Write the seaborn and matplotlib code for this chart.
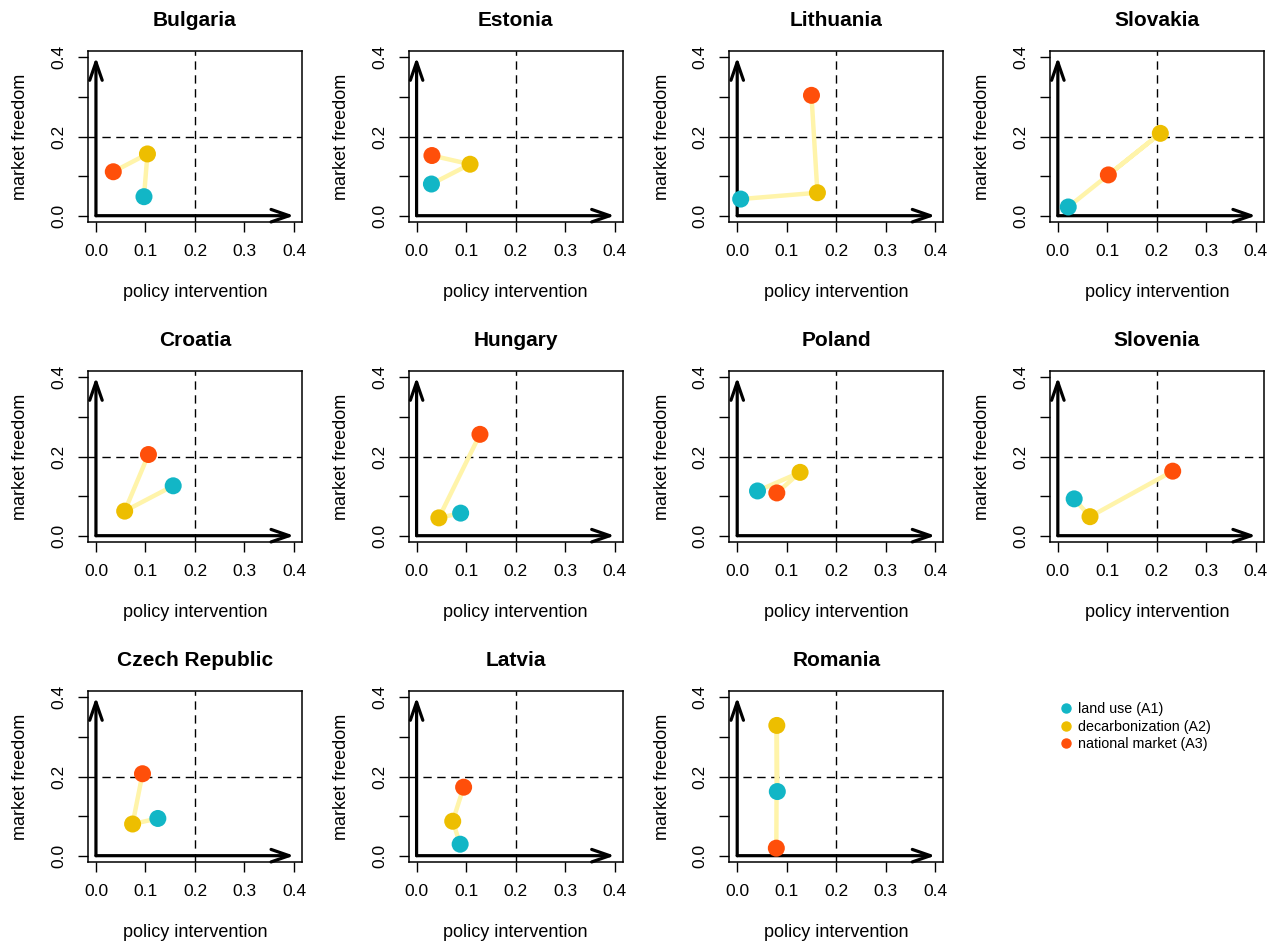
import numpy as np
import pandas as pd
import seaborn as sns
import matplotlib.pyplot as plt
from matplotlib.lines import Line2D

sns.set_style('white')
plt.rcParams['font.family'] = ['Liberation Sans', 'DejaVu Sans']
plt.rcParams['text.color'] = 'black'
plt.rcParams['axes.labelcolor'] = 'black'
plt.rcParams['xtick.color'] = 'black'
plt.rcParams['ytick.color'] = 'black'

countries = ['Bulgaria', 'Estonia', 'Lithuania', 'Slovakia',
             'Croatia', 'Hungary', 'Poland', 'Slovenia',
             'Czech Republic', 'Latvia', 'Romania']
scenarios = ['land use (A1)', 'decarbonization (A2)', 'national market (A3)']

# policy intervention (x) / market freedom (y) per scenario, one value per country
land_use_x = [0.097, 0.030, 0.007, 0.021, 0.156, 0.089, 0.041, 0.033, 0.125, 0.088, 0.081]
land_use_y = [0.048, 0.080, 0.042, 0.022, 0.126, 0.057, 0.113, 0.093, 0.094, 0.029, 0.162]
decarb_x = [0.104, 0.108, 0.162, 0.207, 0.058, 0.045, 0.127, 0.065, 0.074, 0.073, 0.080]
decarb_y = [0.156, 0.130, 0.058, 0.208, 0.062, 0.045, 0.160, 0.048, 0.080, 0.087, 0.329]
market_x = [0.035, 0.031, 0.150, 0.102, 0.106, 0.128, 0.080, 0.232, 0.094, 0.095, 0.079]
market_y = [0.111, 0.152, 0.304, 0.103, 0.205, 0.256, 0.108, 0.163, 0.207, 0.173, 0.019]

ticks = [0.0, 0.1, 0.2, 0.3, 0.4]
xtick_labels = ['0.0', '0.1', '0.2', '0.3', '0.4']
ytick_labels = ['0.0', '', '0.2', '', '0.4']
threshold = 0.2

colors = ['#12B6C6', '#EDBE00', '#FF4F0A']
palette = dict(zip(scenarios, colors))
link_color = '#FFF4AA'

rows = []
for i, c in enumerate(countries):
    for s, xs, ys in zip(scenarios, [land_use_x, decarb_x, market_x], [land_use_y, decarb_y, market_y]):
        rows.append({'country': c, 'scenario': s, 'x': xs[i], 'y': ys[i]})
df = pd.DataFrame(rows)

fig, axes = plt.subplots(3, 4, figsize=(12.74, 9.48), dpi=100)
fig.subplots_adjust(left=0.0691, right=0.992, top=0.9462, bottom=0.0907, wspace=0.499, hspace=0.871)

for ax, c in zip(axes.flat, countries):
    d = df[df['country'] == c]
    ax.axhline(threshold, color='black', lw=1.0, dashes=(6, 4), zorder=1)
    ax.axvline(threshold, color='black', lw=1.0, dashes=(6, 4), zorder=1)
    ax.annotate('', xy=(ticks[-1], ticks[0]), xytext=(ticks[0], ticks[0]),
                arrowprops=dict(arrowstyle='->,head_length=1.3,head_width=0.45', lw=2.3,
                                color='black', shrinkA=0, shrinkB=0), zorder=2)
    ax.annotate('', xy=(ticks[0], ticks[-1]), xytext=(ticks[0], ticks[0]),
                arrowprops=dict(arrowstyle='->,head_length=1.3,head_width=0.45', lw=2.3,
                                color='black', shrinkA=0, shrinkB=0), zorder=2)
    sns.lineplot(data=d, x='x', y='y', sort=False, estimator=None, color=link_color,
                 lw=3.2, ax=ax, zorder=3)
    sns.scatterplot(data=d, x='x', y='y', hue='scenario', palette=palette, s=150,
                    linewidth=0, legend=False, ax=ax, zorder=4)
    ax.set_xlim(-0.016, 0.416)
    ax.set_ylim(-0.016, 0.416)
    ax.set_xticks(ticks)
    ax.set_xticklabels(xtick_labels, fontsize=12.5)
    ax.set_yticks(ticks)
    ax.set_yticklabels(ytick_labels, fontsize=12.5, rotation=90, va='center')
    ax.tick_params(axis='both', direction='out', length=7.5, width=1.0, color='black',
                   bottom=True, left=True)
    ax.tick_params(axis='x', pad=8)
    ax.tick_params(axis='y', pad=8)
    for sp in ax.spines.values():
        sp.set_color('black')
        sp.set_linewidth(1.1)
    ax.set_title(c, fontsize=15, fontweight='bold', pad=18)
    ax.set_xlabel('policy intervention', fontsize=13, labelpad=18)
    ax.set_ylabel('market freedom', fontsize=13, labelpad=16)

# last cell only holds the legend
axes.flat[-1].axis('off')
handles = [Line2D([], [], marker='o', ls='', color=palette[s], markersize=6.5) for s in scenarios]
fig.legend(handles, scenarios, loc='upper left', bbox_to_anchor=(0.832, 0.2595),
           frameon=False, fontsize=10.3, handlelength=0.8, handletextpad=0.46,
           borderpad=0, borderaxespad=0, labelspacing=0.25)

fig.savefig('out.png', dpi=100)
